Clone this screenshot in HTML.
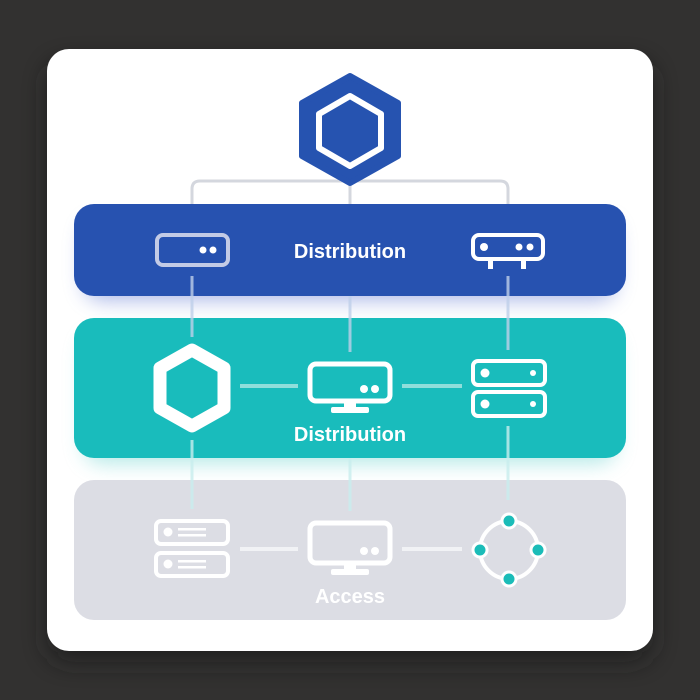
<!DOCTYPE html>
<html><head><meta charset="utf-8"><style>
html,body{margin:0;padding:0;width:700px;height:700px;overflow:hidden;background:#323130;}
svg{display:block}
text{font-family:"Liberation Sans",sans-serif;font-weight:bold;}
</style></head><body>
<svg width="700" height="700" viewBox="0 0 700 700">
<defs>
<filter id="sh" x="-20%" y="-20%" width="140%" height="160%"><feGaussianBlur stdDeviation="10"/></filter>
<filter id="cs" x="-10%" y="-10%" width="120%" height="130%"><feGaussianBlur stdDeviation="12"/></filter>
</defs>
<rect x="0" y="0" width="700" height="700" fill="#323130"/>
<rect x="47" y="62" width="606" height="600" rx="22" fill="#1c1c1c" filter="url(#cs)" opacity="0.7"/>
<rect x="47" y="49" width="606" height="602" rx="22" fill="#ffffff"/>
<path d="M192 204 V189 Q192 181 200 181 H500 Q508 181 508 189 V204" fill="none" stroke="#d4d7de" stroke-width="3"/>
<line x1="350" y1="181" x2="350" y2="204" stroke="#d4d7de" stroke-width="3"/>
<polygon points="350,76 398,103 398,156 350,183 302,156 302,103" fill="#2653b0" stroke="#2653b0" stroke-width="6" stroke-linejoin="round"/>
<polygon points="350,96 381,114 381,148 350,166 319,148 319,114" fill="none" stroke="#fff" stroke-width="6" stroke-linejoin="round"/>
<rect x="84" y="220" width="532" height="80" rx="18" fill="#6f86d8" filter="url(#sh)" opacity="0.6"/>
<rect x="84" y="335" width="532" height="128" rx="18" fill="#7fd9d6" filter="url(#sh)" opacity="0.6"/>
<rect x="74" y="480" width="552" height="140" rx="20" fill="#dcdde4"/>
<rect x="74" y="318" width="552" height="140" rx="20" fill="#19bcbc"/>
<rect x="74" y="204" width="552" height="92" rx="20" fill="#2752b0"/>
<text x="350" y="258" font-size="20" fill="#fff" text-anchor="middle">Distribution</text>
<rect x="157" y="235" width="71" height="30" rx="6" fill="none" stroke="#c3cbe6" stroke-width="4"/>
<circle cx="203" cy="250" r="3.5" fill="#fff"/><circle cx="213" cy="250" r="3.5" fill="#fff"/>
<rect x="473" y="235" width="70" height="24" rx="6" fill="none" stroke="#fff" stroke-width="4"/>
<circle cx="484" cy="247" r="4" fill="#fff"/><circle cx="519" cy="247" r="3.5" fill="#fff"/><circle cx="530" cy="247" r="3.5" fill="#fff"/>
<rect x="488" y="259" width="5" height="10" fill="#fff"/><rect x="521" y="259" width="5" height="10" fill="#fff"/>
<g stroke="#bfd0ea" stroke-width="3" opacity="0.8">
<line x1="192" y1="276" x2="192" y2="337"/>
<line x1="350" y1="296" x2="350" y2="352"/>
<line x1="508" y1="276" x2="508" y2="350"/>
</g>
<g stroke="#c9eeee" stroke-width="3" opacity="0.8">
<line x1="192" y1="440" x2="192" y2="509"/>
<line x1="350" y1="458" x2="350" y2="511"/>
<line x1="508" y1="426" x2="508" y2="500"/>
</g>
<g stroke="#8fdedb" stroke-width="4">
<line x1="240" y1="386" x2="298" y2="386"/>
<line x1="402" y1="386" x2="462" y2="386"/>
</g>
<polygon points="192,350 224,368 224,408 192,426 160,408 160,368" fill="none" stroke="#fff" stroke-width="13" stroke-linejoin="round"/>
<rect x="310" y="364" width="80" height="37" rx="6" fill="none" stroke="#fff" stroke-width="5"/>
<circle cx="364" cy="389" r="4" fill="#fff"/><circle cx="375" cy="389" r="4" fill="#fff"/>
<rect x="344" y="401" width="12" height="8" fill="#fff"/><rect x="331" y="407" width="38" height="6" rx="2" fill="#fff"/>
<rect x="473" y="361" width="72" height="24" rx="5" fill="none" stroke="#fff" stroke-width="4"/>
<rect x="473" y="392" width="72" height="24" rx="5" fill="none" stroke="#fff" stroke-width="4"/>
<circle cx="485" cy="373" r="4.5" fill="#fff"/><circle cx="533" cy="373" r="3" fill="#fff"/>
<circle cx="485" cy="404" r="4.5" fill="#fff"/><circle cx="533" cy="404" r="3" fill="#fff"/>
<text x="350" y="441" font-size="20" fill="#fff" text-anchor="middle">Distribution</text>
<g stroke="#f1f2f5" stroke-width="4">
<line x1="240" y1="549" x2="298" y2="549"/>
<line x1="402" y1="549" x2="462" y2="549"/>
</g>
<rect x="156" y="521" width="72" height="23" rx="5" fill="none" stroke="#fff" stroke-width="4"/>
<rect x="156" y="553" width="72" height="23" rx="5" fill="none" stroke="#fff" stroke-width="4"/>
<circle cx="168" cy="532" r="4.5" fill="#fff"/><rect x="178" y="528" width="28" height="2.5" fill="#fff"/><rect x="178" y="534" width="28" height="2.5" fill="#fff"/>
<circle cx="168" cy="564" r="4.5" fill="#fff"/><rect x="178" y="560" width="28" height="2.5" fill="#fff"/><rect x="178" y="566" width="28" height="2.5" fill="#fff"/>
<rect x="310" y="523" width="80" height="40" rx="6" fill="none" stroke="#fff" stroke-width="5"/>
<circle cx="364" cy="551" r="4" fill="#fff"/><circle cx="375" cy="551" r="4" fill="#fff"/>
<rect x="344" y="563" width="12" height="8" fill="#fff"/><rect x="331" y="569" width="38" height="6" rx="2" fill="#fff"/>
<circle cx="509" cy="550" r="29" fill="none" stroke="#fff" stroke-width="4"/>
<g fill="#1bbcb8" stroke="#fff" stroke-width="3">
<circle cx="509" cy="521" r="7"/><circle cx="538" cy="550" r="7"/><circle cx="509" cy="579" r="7"/><circle cx="480" cy="550" r="7"/>
</g>
<text x="350" y="603" font-size="20" fill="#fff" text-anchor="middle">Access</text>
</svg>
</body></html>
